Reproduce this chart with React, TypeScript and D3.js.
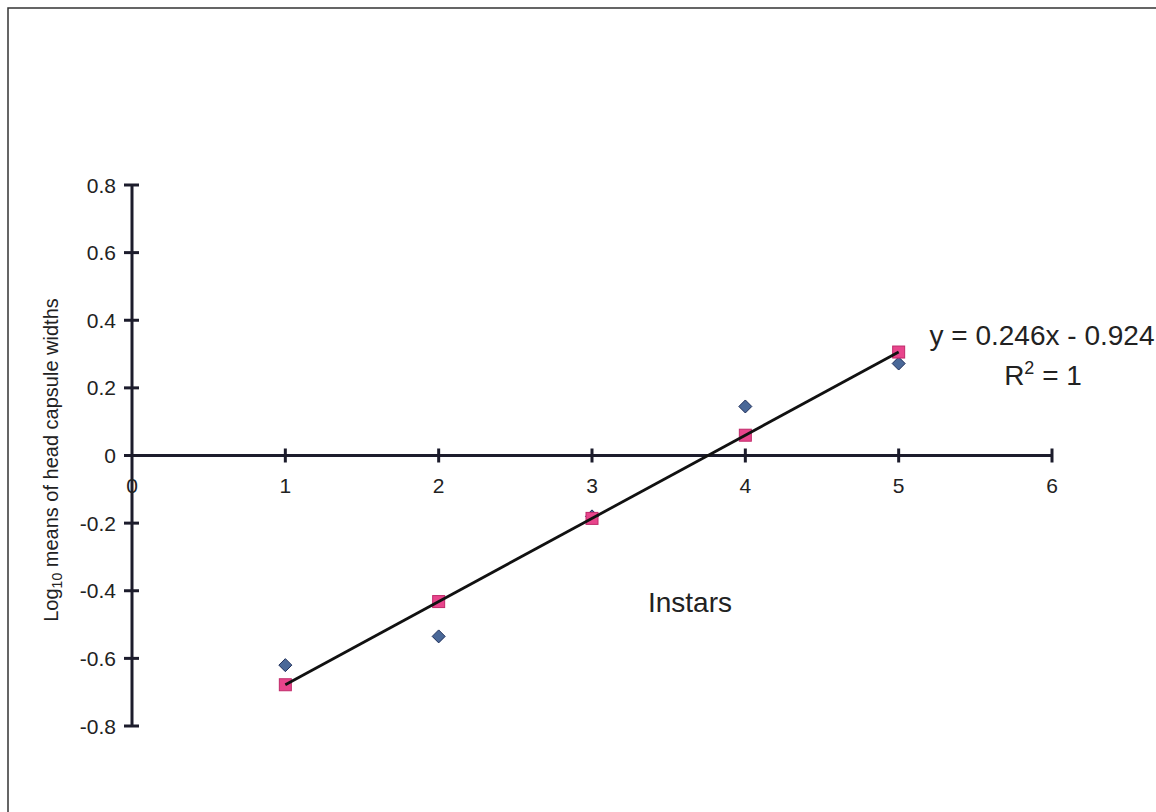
import React from "react";
import * as d3 from "d3";

const instars = [1, 2, 3, 4, 5];
const observed = [-0.62, -0.535, -0.18, 0.145, 0.272];
const fitted = [-0.678, -0.432, -0.186, 0.06, 0.306];
const xTicks = [0, 1, 2, 3, 4, 5, 6];
const yTicks = [0.8, 0.6, 0.4, 0.2, 0, -0.2, -0.4, -0.6, -0.8];
const yTickLabels = ["0.8", "0.6", "0.4", "0.2", "0", "-0.2", "-0.4", "-0.6", "-0.8"];
const slope = 0.246;
const intercept = -0.924;

export default function App() {
  const W = 1156, H = 812;
  const x = d3.scaleLinear().domain([0, 6]).range([132, 1052]);
  const y = d3.scaleLinear().domain([-0.8, 0.8]).range([726, 185]);
  const axisColor = "#1c1c2c";
  const font = "Arial, 'Liberation Sans', sans-serif";
  const line = d3.line<number>().x((d) => x(d)).y((d) => y(slope * d + intercept));
  const dh = 6.5;
  const diamond = `M0,${-dh}L${dh},0L0,${dh}L${-dh},0Z`;

  return (
    <svg width={W} height={H} style={{ position: "absolute", left: 0, top: 0 }}>
      <rect x={0} y={0} width={W} height={H} fill="#fff" />
      <rect x={8} y={8} width={W + 20} height={H + 20} fill="none" stroke="#333" strokeWidth={1.5} />
      {/* axes */}
      <line x1={x(0)} x2={x(6)} y1={y(0)} y2={y(0)} stroke={axisColor} strokeWidth={3} />
      <line x1={x(0)} x2={x(0)} y1={y(0.8)} y2={y(-0.8)} stroke={axisColor} strokeWidth={3} />
      {yTicks.map((t, i) => (
        <g key={"y" + t}>
          <line x1={x(0) - 8} x2={x(0) + 7} y1={y(t)} y2={y(t)} stroke={axisColor} strokeWidth={3} />
          <text x={x(0) - 16} y={y(t) + 7.5} textAnchor="end" fontFamily={font} fontSize={21} fill="#222">
            {yTickLabels[i]}
          </text>
        </g>
      ))}
      {xTicks.map((t) => (
        <g key={"x" + t}>
          {t > 0 && <line x1={x(t)} x2={x(t)} y1={y(0) - 7} y2={y(0) + 7} stroke={axisColor} strokeWidth={3} />}
          <text x={x(t)} y={y(0) + 37} textAnchor="middle" fontFamily={font} fontSize={21} fill="#222">
            {t}
          </text>
        </g>
      ))}
      {/* observed diamonds */}
      {instars.map((d, i) => (
        <path key={"o" + i} d={diamond} transform={`translate(${x(d)},${y(observed[i])})`} fill="#4a6898" stroke="#1e2e5a" strokeWidth={1} />
      ))}
      {/* fitted squares */}
      {instars.map((d, i) => (
        <rect key={"f" + i} x={x(d) - 6} y={y(fitted[i]) - 6} width={12} height={12} fill="#e8458c" stroke="#c02a6a" strokeWidth={1} />
      ))}
      {/* trend line */}
      <path d={line([1, 5]) as string} fill="none" stroke="#111" strokeWidth={2.8} />
      {/* labels */}
      <text x={1042} y={345} textAnchor="middle" fontFamily={font} fontSize={28} fill="#222">y = 0.246x - 0.924</text>
      <text x={1043} y={385} textAnchor="middle" fontFamily={font} fontSize={28} fill="#222">
        R<tspan dy={-11} fontSize={18}>2</tspan><tspan dy={11}> = 1</tspan>
      </text>
      <text x={690} y={612} textAnchor="middle" fontFamily={font} fontSize={28} fill="#222">Instars</text>
      <text transform={`translate(58,460) rotate(-90)`} textAnchor="middle" fontFamily={font} fontSize={20} fill="#222">
        Log<tspan fontSize={14} dy={4}>10</tspan><tspan dy={-4}> means of head capsule widths</tspan>
      </text>
    </svg>
  );
}
